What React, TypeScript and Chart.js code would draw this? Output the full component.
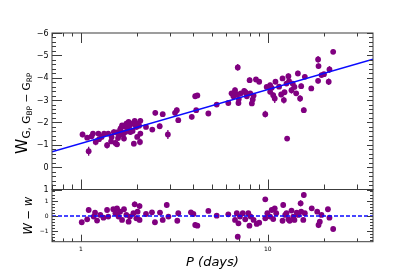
import React, { useEffect, useRef } from "react";
import { Chart, registerables } from "chart.js";

Chart.register(...registerables);

// ---------- data ----------
const periodMin = 0.7;
const periodMax = 36.6;
const xMajorTicks = [1, 10];
const xMinorTicks = [0.7, 0.8, 0.9, 2, 3, 4, 5, 6, 7, 8, 9, 20, 30];
const topYTicks = [-6, -5, -4, -3, -2, -1, 0, 1];
const resYTicks = [-1, 0, 1];
const fitIntercept = -1.06;
const fitSlope = -2.41;

const topPeriods = [
  1.02, 1.10, 1.08, 1.16, 1.20, 1.24, 1.29, 1.33, 1.38, 1.40, 1.46, 1.50, 1.53, 1.56, 1.60, 1.63,
  1.66, 1.70, 1.73, 1.75, 1.80, 1.84, 1.87, 1.92, 1.94, 1.98, 2.00, 2.03, 2.08, 2.07, 2.08, 2.23,
  2.41, 2.50, 2.64, 2.74, 2.92, 1.45, 1.58, 1.68, 1.78, 1.89, 1.25, 1.14,
  1.62, 1.72, 1.82, 1.95, 2.05, 1.55,
  3.19, 3.26, 3.32, 3.92, 4.14, 4.09, 4.20, 4.81, 5.33, 6.15, 6.55, 6.68, 6.91, 6.97, 6.83, 7.18,
  7.48, 7.73, 8.0, 8.06, 8.22, 8.31, 8.65, 9.0, 9.7, 9.87, 10.3, 7.0, 7.6, 8.4, 6.4,
  10.5, 10.7, 10.3, 11.0, 10.9, 12.0, 12.2, 12.6, 12.7, 12.9, 13.4, 13.6, 13.9, 14.5, 14.9, 15.1,
  15.6, 15.8, 17.1, 18.6, 18.7, 18.6, 19.4, 20.0, 21.2, 21.4, 22.4, 11.5, 12.3, 13.0, 14.2, 11.8,
];
const topW = [
  -1.46, -0.71, -1.32, -1.50, -1.13, -1.50, -1.35, -1.50, -0.98, -1.50, -1.35, -1.57, -1.08, -1.02, -1.43, -1.73,
  -1.87, -1.28, -1.57, -1.95, -2.02, -1.57, -1.95, -1.05, -2.07, -1.80, -1.35, -1.95, -2.07, -1.13, -1.50, -1.80,
  -1.68, -2.43, -1.83, -2.37, -1.46, -1.15, -1.30, -1.45, -1.75, -1.62, -1.25, -1.38,
  -1.65, -1.82, -1.85, -1.90, -1.85, -1.55,
  -2.43, -2.55, -2.10, -2.25, -2.55, -3.17, -3.21, -2.40, -2.80, -2.87, -3.17, -3.44, -4.46, -2.87, -3.26, -3.30,
  -3.41, -3.17, -3.89, -3.30, -2.85, -3.03, -3.92, -3.82, -2.37, -3.59, -3.67, -3.05, -3.35, -3.20, -3.30,
  -3.55, -3.22, -3.37, -3.82, -3.07, -3.97, -3.00, -3.74, -1.28, -4.07, -3.44, -3.74, -3.59, -4.19, -3.07, -3.62,
  -2.55, -4.04, -3.52, -4.82, -4.52, -3.86, -4.12, -4.16, -3.82, -4.37, -5.16, -3.60, -3.35, -3.85, -3.30, -3.25,
];
const topErr = [
  0.12, 0.20, 0.10, 0.12, 0.15, 0.10, 0.12, 0.10, 0.15, 0.10, 0.10, 0.12, 0.15, 0.12, 0.10, 0.12,
  0.10, 0.12, 0.10, 0.12, 0.10, 0.12, 0.10, 0.12, 0.10, 0.12, 0.10, 0.10, 0.12, 0.15, 0.12, 0.10,
  0.10, 0.12, 0.12, 0.10, 0.20, 0.10, 0.10, 0.10, 0.10, 0.10, 0.10, 0.10,
  0.10, 0.10, 0.12, 0.10, 0.10, 0.10,
  0.12, 0.12, 0.10, 0.12, 0.10, 0.12, 0.10, 0.10, 0.10, 0.10, 0.12, 0.12, 0.15, 0.12, 0.10, 0.10,
  0.12, 0.12, 0.12, 0.10, 0.12, 0.15, 0.10, 0.10, 0.15, 0.10, 0.10, 0.10, 0.10, 0.10, 0.10,
  0.10, 0.12, 0.12, 0.10, 0.20, 0.10, 0.15, 0.10, 0.10, 0.12, 0.15, 0.10, 0.12, 0.12, 0.15, 0.12,
  0.12, 0.10, 0.10, 0.15, 0.12, 0.12, 0.10, 0.10, 0.15, 0.15, 0.10, 0.10, 0.10, 0.10, 0.10, 0.12,
];

const resPeriods = [
  1.01, 1.10, 1.08, 1.17, 1.19, 1.22, 1.27, 1.32, 1.38, 1.40, 1.49, 1.53, 1.56, 1.59, 1.62, 1.66,
  1.70, 1.75, 1.80, 1.83, 1.91, 1.94, 1.98, 2.01, 2.06, 2.06, 2.23, 2.40, 2.49, 2.65, 2.74, 2.88,
  2.94, 3.28, 3.32, 3.88, 4.00, 4.09, 4.20, 4.81, 5.33, 6.15, 6.68, 6.83, 6.91, 6.97, 7.10, 7.35,
  7.58, 7.87, 7.98, 8.10, 8.40, 8.73, 9.00, 9.70, 9.70, 9.95, 10.3, 10.5, 10.7, 10.9, 11.1, 12.0,
  12.1, 12.4, 12.6, 12.9, 13.1, 13.4, 13.7, 13.9, 14.3, 14.6, 15.0, 15.1, 15.5, 15.6, 15.8, 17.2,
  18.4, 18.7, 19.0, 19.4, 21.0, 21.4, 22.4,
];
const resValues = [
  -0.41, 0.39, -0.22, -0.04, 0.21, -0.30, 0.07, -0.11, 0.39, -0.04, 0.44, 0.18, 0.50, -0.04, 0.28, -0.26,
  0.44, 0.07, -0.37, -0.04, 0.18, 0.76, -0.15, 0.28, 0.65, -0.26, 0.13, 0.24, -0.41, 0.22, -0.26, 0.72,
  -0.04, -0.31, 0.18, 0.24, 0.13, -0.59, -0.63, 0.33, 0.02, 0.11, -0.26, 0.18, -1.35, -0.48, -0.04, 0.18,
  -0.22, 0.18, -0.63, -0.04, -0.26, -0.52, -0.44, 1.09, -0.15, 0.18, -0.04, 0.39, -0.20, 0.50, 0.18, -0.31,
  0.72, 0.07, 0.18, -0.22, -0.31, 0.35, -0.04, -0.26, 0.22, 0.07, 0.83, 0.28, -0.26, 1.37, 0.18, 0.50,
  0.28, -0.59, -0.37, 0.07, 0.44, -0.11, -0.85,
];
const resErr = [
  0.15, 0.15, 0.12, 0.12, 0.15, 0.15, 0.12, 0.12, 0.15, 0.12, 0.15, 0.12, 0.15, 0.12, 0.15, 0.12,
  0.15, 0.12, 0.15, 0.12, 0.15, 0.18, 0.12, 0.15, 0.18, 0.15, 0.12, 0.12, 0.15, 0.12, 0.15, 0.20,
  0.12, 0.15, 0.12, 0.15, 0.12, 0.18, 0.15, 0.12, 0.12, 0.12, 0.15, 0.12, 0.18, 0.15, 0.12, 0.15,
  0.12, 0.15, 0.15, 0.12, 0.12, 0.12, 0.15, 0.15, 0.12, 0.15, 0.12, 0.15, 0.12, 0.15, 0.12, 0.15,
  0.20, 0.12, 0.15, 0.12, 0.15, 0.15, 0.12, 0.15, 0.12, 0.12, 0.20, 0.15, 0.12, 0.18, 0.15, 0.12,
  0.15, 0.20, 0.15, 0.12, 0.15, 0.12, 0.12,
];

// ---------- styling ----------
const CANVAS_W = 415;
const CANVAS_H = 277;
const AREA_LEFT = 52;
const AREA_RIGHT = 373;
const TOP_PANEL_TOP = 33;
const PANEL_SPLIT = 189.5;
const BOTTOM_PANEL_BOTTOM = 241.7;
const FRAME_COLOR = "#3c3c3c";
const POINT_COLOR = "#800080";
const LINE_COLOR = "#0a0aff";
const FONT = "'DejaVu Sans', sans-serif";
const MINUS = "\u2212";

const fmt = (v: number) => (v < 0 ? MINUS + Math.abs(v) : String(v));

type FrameOpts = {
  yTicks: number[];
  yMinorStep: number;
  leftMajor: number;
  leftMinor: number;
  rightMajor: number;
  rightMinor: number;
  topMajor: number;
  topMinor: number;
  bottomMajor: number;
  bottomMinor: number;
  yLabelFont: string;
  xLabels: boolean;
  panel: "top" | "bottom";
};

const framePlugin = {
  id: "frame",
  beforeDatasetsDraw(chart: any) {
    const { ctx, scales } = chart;
    const xs = scales.x;
    const ys = scales.y;
    chart.data.datasets.forEach((ds: any) => {
      if (!ds.errors) return;
      ctx.save();
      ctx.strokeStyle = POINT_COLOR;
      ctx.lineWidth = 1.3;
      ds.data.forEach((p: any, j: number) => {
        const e = ds.errors[j];
        const px = xs.getPixelForValue(p.x);
        const y1 = ys.getPixelForValue(p.y - e);
        const y2 = ys.getPixelForValue(p.y + e);
        ctx.beginPath();
        ctx.moveTo(px, y1);
        ctx.lineTo(px, y2);
        ctx.stroke();
      });
      ctx.restore();
    });
  },
  afterDraw(chart: any, _args: any, o: FrameOpts) {
    const { ctx, chartArea: a, scales } = chart;
    const xs = scales.x;
    const ys = scales.y;
    ctx.save();
    ctx.strokeStyle = FRAME_COLOR;
    ctx.lineWidth = 1;
    const line = (x1: number, y1: number, x2: number, y2: number) => {
      ctx.beginPath();
      ctx.moveTo(x1, y1);
      ctx.lineTo(x2, y2);
      ctx.stroke();
    };
    ctx.strokeRect(a.left, a.top, a.right - a.left, a.bottom - a.top);
    const xTick = (v: number, topLen: number, botLen: number) => {
      const px = Math.round(xs.getPixelForValue(v)) + 0.5;
      if (topLen > 0) line(px, a.top, px, a.top + topLen);
      if (botLen > 0) line(px, a.bottom, px, a.bottom - botLen);
    };
    xMajorTicks.forEach((v) => xTick(v, o.topMajor, o.bottomMajor));
    xMinorTicks.forEach((v) => xTick(v, o.topMinor, o.bottomMinor));
    const yTick = (v: number, l: number, r: number) => {
      const py = Math.round(ys.getPixelForValue(v)) + 0.5;
      line(a.left, py, a.left + l, py);
      line(a.right, py, a.right - r, py);
    };
    o.yTicks.forEach((v) => yTick(v, o.leftMajor, o.rightMajor));
    const lo = Math.ceil(Math.min(ys.min, ys.max) / o.yMinorStep - 1e-6);
    const hi = Math.floor(Math.max(ys.min, ys.max) / o.yMinorStep + 1e-6);
    for (let k = lo; k <= hi; k++) {
      const v = k * o.yMinorStep;
      if (Math.abs(v - Math.round(v)) < 1e-6) continue;
      yTick(v, o.leftMinor, o.rightMinor);
    }
    ctx.fillStyle = "#000";
    ctx.font = o.yLabelFont;
    ctx.textAlign = "right";
    ctx.textBaseline = "middle";
    o.yTicks.forEach((v) => {
      ctx.fillText(fmt(v), a.left - 3.5, ys.getPixelForValue(v) + 0.5);
    });
    if (o.xLabels) {
      ctx.font = `6px ${FONT}`;
      ctx.textAlign = "center";
      ctx.textBaseline = "top";
      xMajorTicks.forEach((v) => {
        ctx.fillText(String(v), xs.getPixelForValue(v), a.bottom + 4.5);
      });
      ctx.font = `italic 13px ${FONT}`;
      ctx.textBaseline = "alphabetic";
      ctx.fillText("P (days)", (a.left + a.right) / 2, 266);
    }
    if (o.panel === "top") {
      const pieces = [
        { t: "W", f: `15.5px ${FONT}`, dy: 0 },
        { t: "G, G", f: `10.5px ${FONT}`, dy: 3 },
        { t: "BP", f: `7.5px ${FONT}`, dy: 5 },
        { t: ` ${MINUS} G`, f: `10.5px ${FONT}`, dy: 3 },
        { t: "RP", f: `7.5px ${FONT}`, dy: 5 },
      ];
      ctx.save();
      ctx.translate(26.5, (a.top + a.bottom) / 2 + 2);
      ctx.rotate(-Math.PI / 2);
      ctx.textAlign = "left";
      ctx.textBaseline = "alphabetic";
      let total = 0;
      pieces.forEach((p) => {
        ctx.font = p.f;
        total += ctx.measureText(p.t).width;
      });
      let x = -total / 2;
      pieces.forEach((p) => {
        ctx.font = p.f;
        ctx.fillText(p.t, x, p.dy);
        x += ctx.measureText(p.t).width;
      });
      ctx.restore();
    } else {
      const pieces = [
        { t: "W", f: `italic 11.5px ${FONT}` },
        { t: ` ${MINUS} `, f: `11.5px ${FONT}` },
        { t: "w", f: `italic 11.5px ${FONT}` },
      ];
      ctx.save();
      ctx.translate(31.5, (a.top + a.bottom) / 2);
      ctx.rotate(-Math.PI / 2);
      ctx.textAlign = "left";
      ctx.textBaseline = "alphabetic";
      let total = 0;
      pieces.forEach((p) => {
        ctx.font = p.f;
        total += ctx.measureText(p.t).width;
      });
      let x = -total / 2;
      pieces.forEach((p) => {
        ctx.font = p.f;
        ctx.fillText(p.t, x, 0);
        x += ctx.measureText(p.t).width;
      });
      ctx.restore();
    }
    ctx.restore();
  },
};

function makeChart(canvas: HTMLCanvasElement, panel: "top" | "bottom") {
  const isTop = panel === "top";
  const pts = isTop
    ? topPeriods.map((p, i) => ({ x: p, y: topW[i] }))
    : resPeriods.map((p, i) => ({ x: p, y: resValues[i] }));
  const errs = isTop ? topErr : resErr;
  const refLine = isTop
    ? [periodMin, periodMax].map((p) => ({ x: p, y: fitIntercept + fitSlope * Math.log10(p) }))
    : [periodMin, periodMax].map((p) => ({ x: p, y: 0 }));
  const frameOpts: FrameOpts = isTop
    ? {
        yTicks: topYTicks,
        yMinorStep: 0.2,
        leftMajor: 10,
        leftMinor: 4,
        rightMajor: 6,
        rightMinor: 4,
        topMajor: 10,
        topMinor: 3.5,
        bottomMajor: 10,
        bottomMinor: 5,
        yLabelFont: `8px ${FONT}`,
        xLabels: false,
        panel: "top",
      }
    : {
        yTicks: resYTicks,
        yMinorStep: 0.2,
        leftMajor: 6,
        leftMinor: 3,
        rightMajor: 6,
        rightMinor: 3,
        topMajor: 0,
        topMinor: 0,
        bottomMajor: 7,
        bottomMinor: 3.3,
        yLabelFont: `6px ${FONT}`,
        xLabels: true,
        panel: "bottom",
      };
  return new Chart(canvas, {
    type: "scatter",
    data: {
      datasets: [
        {
          type: "line",
          data: refLine,
          borderColor: LINE_COLOR,
          borderWidth: isTop ? 1.5 : 1.5,
          borderDash: isTop ? [] : [4, 2],
          pointRadius: 0,
          fill: false,
          order: 0,
        } as any,
        {
          data: pts,
          backgroundColor: POINT_COLOR,
          borderWidth: 0,
          pointRadius: 2.9,
          pointHoverRadius: 2.9,
          order: 1,
          errors: errs,
        } as any,
      ],
    },
    options: {
      responsive: false,
      animation: false,
      devicePixelRatio: 1,
      events: [],
      layout: {
        padding: isTop
          ? { left: AREA_LEFT, right: CANVAS_W - AREA_RIGHT, top: TOP_PANEL_TOP, bottom: CANVAS_H - PANEL_SPLIT }
          : { left: AREA_LEFT, right: CANVAS_W - AREA_RIGHT, top: PANEL_SPLIT, bottom: CANVAS_H - BOTTOM_PANEL_BOTTOM },
      },
      scales: {
        x: { type: "logarithmic", min: periodMin, max: periodMax, display: false },
        y: isTop
          ? { type: "linear", min: -6, max: 1, reverse: true, display: false }
          : { type: "linear", min: -1.68, max: 1.73, display: false },
      },
      plugins: {
        legend: { display: false },
        tooltip: { enabled: false },
        frame: frameOpts,
      } as any,
    },
    plugins: [framePlugin],
  });
}

export default function App() {
  const topRef = useRef<HTMLCanvasElement>(null);
  const botRef = useRef<HTMLCanvasElement>(null);
  useEffect(() => {
    const c1 = makeChart(topRef.current!, "top");
    const c2 = makeChart(botRef.current!, "bottom");
    return () => {
      c1.destroy();
      c2.destroy();
    };
  }, []);
  const cs: React.CSSProperties = { position: "absolute", left: 0, top: 0, width: CANVAS_W, height: CANVAS_H };
  return (
    <div style={{ position: "fixed", left: 0, top: 0, width: CANVAS_W, height: CANVAS_H, background: "#fff" }}>
      <canvas ref={topRef} width={CANVAS_W} height={CANVAS_H} style={cs} />
      <canvas ref={botRef} width={CANVAS_W} height={CANVAS_H} style={cs} />
    </div>
  );
}
